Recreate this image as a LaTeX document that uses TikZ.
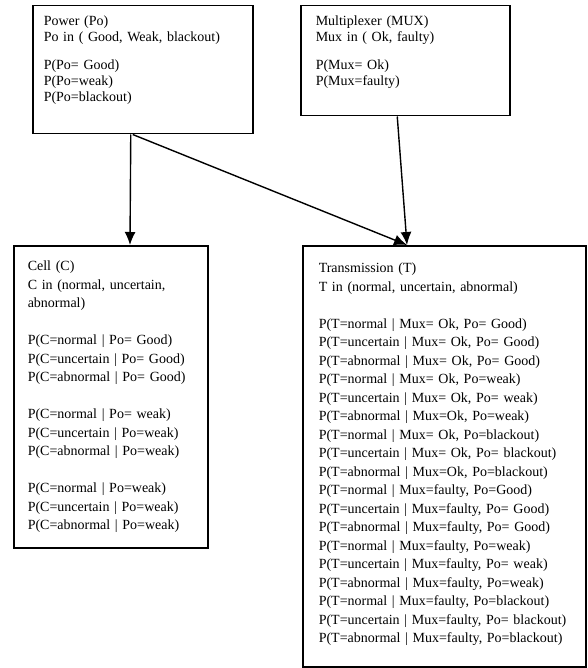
\documentclass[tikz,border=0pt]{standalone}
\usepackage{fontspec}
\setmainfont{Liberation Serif}
\usetikzlibrary{arrows.meta}

\tikzset{
  box/.style={draw, line width=1.5pt, anchor=north west, align=left, inner xsep=14pt, inner ysep=0pt,
    font=\fontsize{14}{18.5}\selectfont},
  topbox/.style={box, text height=20pt, font=\fontsize{14}{16}\selectfont},
  arr/.style={line width=1.4pt, -{Latex[length=13pt,width=11pt]}}
}

\begin{document}
\begin{tikzpicture}[x=1pt,y=-1pt]

    \useasboundingbox (0,0) rectangle (587,668);
    \clip (0,0) rectangle (587,668);

    % Power
    \node[topbox, inner xsep=11pt, text width=198pt, text depth=108pt] (power) at (32,5)
      {\begin{tabular}[t]{@{}l@{}}
        Power (Po)\\
        Po in ( Good, Weak, blackout)\\[12pt]
        P(Po= Good)\\
        P(Po=weak)\\
        P(Po=blackout)
      \end{tabular}};

    % Multiplexer
    \node[topbox, inner xsep=15pt, text width=179pt, text depth=90pt] (mux) at (300,5)
      {\begin{tabular}[t]{@{}l@{}}
        Multiplexer (MUX)\\
        Mux in ( Ok, faulty)\\[12pt]
        P(Mux= Ok)\\
        P(Mux=faulty)
      \end{tabular}};

    % Cell
    \node[box, text width=166pt, text height=25pt, text depth=277pt] (cell) at (13,245)
      {\begin{tabular}[t]{@{}l@{}}
        Cell (C)\\
        C in (normal, uncertain,\\
        abnormal)\\
        \\
        P(C=normal | Po= Good)\\
        P(C=uncertain | Po= Good)\\
        P(C=abnormal | Po= Good)\\
        \\
        P(C=normal | Po= weak)\\
        P(C=uncertain | Po=weak)\\
        P(C=abnormal | Po=weak)\\
        \\
        P(C=normal | Po=weak)\\
        P(C=uncertain | Po=weak)\\
        P(C=abnormal | Po=weak)
      \end{tabular}};

    % Transmission
    \node[box, inner xsep=16pt, text width=251pt, text height=27pt, text depth=394pt] (trans) at (302,245)
      {\begin{tabular}[t]{@{}l@{}}
        Transmission (T)\\
        T in (normal, uncertain, abnormal)\\
        \\
        P(T=normal | Mux= Ok, Po= Good)\\
        P(T=uncertain | Mux= Ok, Po= Good)\\
        P(T=abnormal | Mux= Ok, Po= Good)\\
        P(T=normal | Mux= Ok, Po=weak)\\
        P(T=uncertain | Mux= Ok, Po= weak)\\
        P(T=abnormal | Mux=Ok, Po=weak)\\
        P(T=normal | Mux= Ok, Po=blackout)\\
        P(T=uncertain | Mux= Ok, Po= blackout)\\
        P(T=abnormal | Mux=Ok, Po=blackout)\\
        P(T=normal | Mux=faulty, Po=Good)\\
        P(T=uncertain | Mux=faulty, Po= Good)\\
        P(T=abnormal | Mux=faulty, Po= Good)\\
        P(T=normal | Mux=faulty, Po=weak)\\
        P(T=uncertain | Mux=faulty, Po= weak)\\
        P(T=abnormal | Mux=faulty, Po=weak)\\
        P(T=normal | Mux=faulty, Po=blackout)\\
        P(T=uncertain | Mux=faulty, Po= blackout)\\
        P(T=abnormal | Mux=faulty, Po=blackout)
      \end{tabular}};

    % Arrow ends
    \coordinate (cellin) at (130,245);
    \coordinate (transin) at (407,245);

    % Arrows
    \draw[arr] ([xshift=-12pt]power.south) -- (cellin);
    \draw[arr] ([xshift=-10pt]power.south) -- (transin);
    \draw[arr] ([xshift=-8pt]mux.south) -- (transin);

\end{tikzpicture}
\end{document}
